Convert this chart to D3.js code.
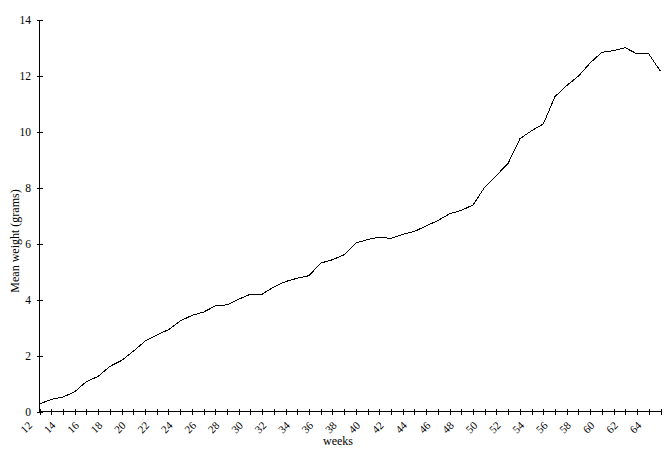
<!DOCTYPE html>
<html>
<head>
<meta charset="utf-8">
<script src="https://cdn.jsdelivr.net/npm/d3@7/dist/d3.min.js"></script>
<style>
  html, body { margin: 0; padding: 0; background: #fff; }
  svg { display: block; }
  text { font-family: "Liberation Serif", "Times New Roman", serif; fill: #000; }
</style>
</head>
<body>
<svg id="chart" width="665" height="456"></svg>
<script>
// ---- data ----
const weeks = [12,13,14,15,16,17,18,19,20,21,22,23,24,25,26,27,28,29,30,31,32,33,34,35,36,37,38,
               39,40,41,42,43,44,45,46,47,48,49,50,51,52,53,54,55,56,57,58,59,60,61,62,63,64,65];
const meanWeight = [0.27,0.43,0.52,0.70,1.07,1.25,1.61,1.82,2.15,2.51,2.73,2.92,3.23,3.43,3.55,3.77,3.81,
                    4.01,4.19,4.19,4.45,4.64,4.76,4.85,5.30,5.42,5.60,6.02,6.14,6.23,6.18,6.33,6.43,6.63,
                    6.82,7.06,7.18,7.38,8.01,8.43,8.87,9.74,10.03,10.27,11.25,11.64,11.98,12.45,12.83,
                    12.89,12.99,12.77,12.77,12.15];
const xTickLabels = [12,14,16,18,20,22,24,26,28,30,32,34,36,38,40,42,44,46,48,50,52,54,56,58,60,62,64];
const yTickLabels = [0,2,4,6,8,10,12,14];
const xTitle = "weeks";
const yTitle = "Mean weight (grams)";

// ---- layout ----
const svg = d3.select("#chart");
const x = d3.scaleLinear().domain([12, 65]).range([39.5, 660.5]);
const y = d3.scaleLinear().domain([0, 14]).range([411.5, 19.5]);

// y axis
const yAxis = svg.append("g").attr("transform", `translate(${x(12)},0)`)
  .call(d3.axisLeft(y).tickValues(yTickLabels).tickSize(3).tickSizeOuter(0).tickFormat(d3.format("d")));
yAxis.select(".domain").attr("stroke", "#000").attr("shape-rendering", "crispEdges")
  .attr("d", `M0,${y(0)}V${y(14)}`);
yAxis.selectAll(".tick line").attr("x1", 3).attr("x2", -3).attr("stroke", "#000").attr("shape-rendering", "crispEdges");
yAxis.selectAll(".tick text").attr("x", -8.5).attr("dy", "0.35em")
  .style("font-family", '"Liberation Serif", serif').style("font-size", "11.5px");

// x axis
const xAxis = svg.append("g").attr("transform", `translate(0,${y(0)})`)
  .call(d3.axisBottom(x).tickValues(weeks).tickSize(3).tickSizeOuter(0).tickFormat(""));
xAxis.select(".domain").attr("stroke", "#000").attr("shape-rendering", "crispEdges")
  .attr("d", `M${x(12)},0H${x(65)}`);
xAxis.selectAll(".tick line").attr("y1", -3).attr("y2", 3).attr("stroke", "#000").attr("shape-rendering", "crispEdges");

// rotated x tick labels
svg.append("g").selectAll("text").data(xTickLabels).join("text")
  .attr("transform", d => `translate(${x(d) - 14.5},434) rotate(-45)`)
  .attr("text-anchor", "start")
  .style("font-size", "11px")
  .text(d => d);

// axis titles
svg.append("text").attr("x", 338).attr("y", 445).attr("text-anchor", "middle")
  .style("font-size", "12px").text(xTitle);
svg.append("text").attr("transform", "translate(19,241) rotate(-90)").attr("text-anchor", "middle")
  .style("font-size", "12px").text(yTitle);

// line
const line = d3.line().x((d, i) => x(weeks[i])).y(d => y(d));
svg.append("path").datum(meanWeight)
  .attr("fill", "none").attr("stroke", "#000").attr("stroke-width", 1)
  .attr("shape-rendering", "crispEdges")
  .attr("d", line);
</script>
</body>
</html>
